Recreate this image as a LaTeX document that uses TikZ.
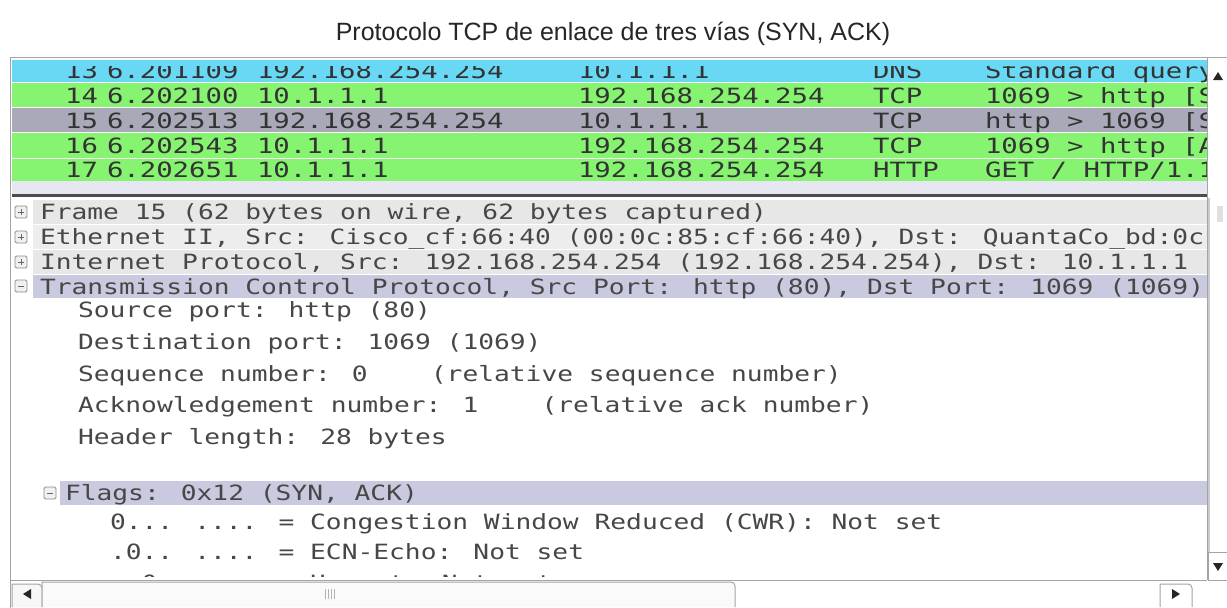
\documentclass[tikz,border=0pt]{standalone}
\usepackage{fontspec}
\setmainfont{Liberation Sans}
\newfontfamily\pktfam[FakeStretch=1.30]{DejaVu Sans Mono}
\newfontfamily\treefam[FakeStretch=1.25]{DejaVu Sans Mono}
\newcommand{\pktfont}{\pktfam\fontsize{21}{21}\selectfont}
\newcommand{\treefont}{\treefam\fontsize{21}{21}\selectfont}
\definecolor{dnsblue}{HTML}{68D8F4}
\definecolor{tcpgreen}{HTML}{86F470}
\definecolor{selgray}{HTML}{A9A9B9}
\definecolor{treelav}{HTML}{C9C9DF}
\definecolor{treegray}{HTML}{E7E7E7}
\definecolor{wsline}{HTML}{A4A4A4}
% one row of the packet list: y of centre, colour, no., time, src, dst, proto, info
\newcommand{\pktrow}[8]{%
  \fill[#2] (12,#1-12) rectangle (1207,#1+12);
  \node[lst,anchor=base east] (no#3) at (98,#1+8) {#3};
  \node[lst] (tm#3) at (107,#1+8) {#4};
  \node[lst] (src#3) at (257,#1+8) {#5};
  \node[lst] (dst#3) at (578,#1+8) {#6};
  \node[lst] (pr#3) at (873,#1+8) {#7};
  \node[lst] (inf#3) at (985,#1+8) {#8};
}
\begin{document}
\begin{tikzpicture}[x=1pt,y=-1pt,
  every node/.style={inner sep=0pt,outer sep=0pt},
  lst/.style={font=\pktfont, text=black!80, anchor=base west},
  tre/.style={font=\treefont, text=black!72, anchor=base west},
  xbox/.style={draw=black!45, fill=black!6, rounded corners=1.5pt, line width=0.8pt},
  frm/.style={draw=wsline, line width=1pt}]
\useasboundingbox (0,0) rectangle (1227,608);
\fill[white] (0,0) rectangle (1227,608);
\node[font=\fontsize{25}{25}\selectfont, anchor=base, text=black!85] (title) at (613,40) {Protocolo TCP de enlace de tres vías (SYN, ACK)};

\begin{scope}
\clip (12,60) rectangle (1207,194);
\pktrow{70}{dnsblue}{13}{6.201109}{192.168.254.254}{10.1.1.1}{DNS}{Standard query}
\pktrow{95}{tcpgreen}{14}{6.202100}{10.1.1.1}{192.168.254.254}{TCP}{1069 > http [SYN]}
\pktrow{120}{selgray}{15}{6.202513}{192.168.254.254}{10.1.1.1}{TCP}{http > 1069 [SYN, ACK]}
\pktrow{145}{tcpgreen}{16}{6.202543}{10.1.1.1}{192.168.254.254}{TCP}{1069 > http [ACK]}
\pktrow{169}{tcpgreen}{17}{6.202651}{10.1.1.1}{192.168.254.254}{HTTP}{GET / HTTP/1.1}
\fill[white!60!treegray] (12,157.5) rectangle (1207,158.5);
\fill[white!55!treelav] (12,181) rectangle (1207,194);
\end{scope}
% the top of row 13 is scrolled out of view
\fill[dnsblue] (12,60) rectangle (1207,66);
\draw[black!70, line width=3pt] (12,195.5) -- (1207,195.5);

\begin{scope}
\clip (12,198) rectangle (1207,576);
\fill[treegray] (33,200) rectangle (1207,224);
\fill[treegray!75] (33,225) rectangle (1207,249);
\fill[treegray] (33,250) rectangle (1207,274);
\fill[treelav] (33,275) rectangle (1207,298);
\fill[treelav] (60,481) rectangle (1207,505);
\node[tre] (frame) at (40,219) {Frame 15 (62 bytes on wire, 62 bytes captured)};
\node[tre] (eth) at (40,244) {Ethernet II, Src: Cisco\_cf:66:40 (00:0c:85:cf:66:40), Dst: QuantaCo\_bd:0c:7c};
\node[tre] (ip) at (40,269) {Internet Protocol, Src: 192.168.254.254 (192.168.254.254), Dst: 10.1.1.1 (10.1.1.1)};
\node[tre] (tcp) at (40,294) {Transmission Control Protocol, Src Port: http (80), Dst Port: 1069 (1069), Seq: 0};
\node[tre] (sport) at (78,317) {Source port: http (80)};
\node[tre] (dport) at (78,349) {Destination port: 1069 (1069)};
\node[tre] (seq) at (78,381) {Sequence number: 0\ \ \ \ (relative sequence number)};
\node[tre] (ack) at (78,412) {Acknowledgement number: 1\ \ \ \ (relative ack number)};
\node[tre] (hlen) at (78,444) {Header length: 28 bytes};
\node[tre] (flags) at (65,500) {Flags: 0x12 (SYN, ACK)};
\node[tre] (cwr) at (110,529) {0... .... = Congestion Window Reduced (CWR): Not set};
\node[tre] (ecn) at (110,559) {.0.. .... = ECN-Echo: Not set};
\node[tre] (urg) at (110,590) {..0. .... = Urgent: Not set};
\draw[xbox] (15,206) rectangle (27,218);
\draw[black!60] (18,212) -- (24,212) (21,209) -- (21,215);
\draw[xbox] (15,231) rectangle (27,243);
\draw[black!60] (18,237) -- (24,237) (21,234) -- (21,240);
\draw[xbox] (15,256) rectangle (27,268);
\draw[black!60] (18,262) -- (24,262) (21,259) -- (21,265);
\draw[xbox] (15,280) rectangle (27,292);
\draw[black!60] (18,286) -- (24,286);
\draw[xbox] (44,487) rectangle (56,499);
\draw[black!60] (47,493) -- (53,493);
\end{scope}

% window frame and scroll bars
\draw[frm] (10,608) -- (10,57.5) -- (1227,57.5);
\draw[frm] (1207.5,58) -- (1207.5,580);
\fill[white] (1208,58) rectangle (1227,194);
\fill[black!85] (1213,80) -- (1223,80) -- (1218,72) -- cycle;
\draw[black!20, line width=1.5pt] (1209,198) -- (1209,552);
\fill[black!12] (1217,206) rectangle (1223,222);
\draw[frm, fill=white] (1208,552) rectangle (1227,580);
\fill[black!85] (1213,563) -- (1223,563) -- (1218,571) -- cycle;
\draw[frm] (10,580.5) -- (1207,580.5);
\draw[frm, fill=black!3] (12,607) -- (12,584) -- (38,584) to[out=0,in=90] (42,588) -- (42,607);
\fill[black!85] (23,594) -- (31,589) -- (31,599) -- cycle;
\draw[frm, fill=black!2] (42,607) -- (42,582) -- (731,582) to[out=0,in=90] (735,586) -- (735,607);
\foreach \gx in {325,328,331,334}
  \draw[black!30, line width=0.8pt] (\gx,589) -- (\gx,599);
\draw[frm, fill=white] (1160,607) -- (1160,584) -- (1188,584) to[out=0,in=90] (1192,588) -- (1192,607);
\fill[black!85] (1180,594) -- (1172,589) -- (1172,599) -- cycle;
\end{tikzpicture}
\end{document}
